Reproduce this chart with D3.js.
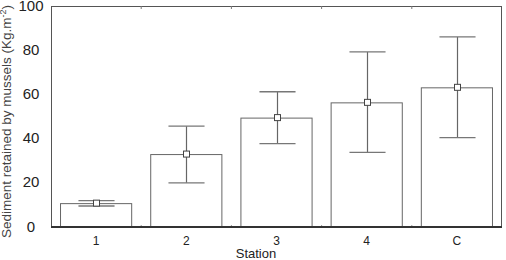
<!DOCTYPE html>
<html>
<head>
<meta charset="utf-8">
<script src="https://cdn.jsdelivr.net/npm/d3@7"></script>
<style>
body { margin: 0; background: #fff; }
text { font-family: "Liberation Sans", Arial, sans-serif; fill: #222; }
</style>
</head>
<body>
<script>
var stations = ["1", "2", "3", "4", "C"];
var means = [10.8, 33.0, 49.5, 56.4, 63.2];
var lower = [9.5, 20.0, 37.7, 33.8, 40.4];
var upper = [11.9, 45.6, 61.2, 79.2, 86.0];
var yTicks = [0, 20, 40, 60, 80, 100];

var W = 506, H = 260;
var pLeft = 51, pRight = 502, pTop = 6, pBottom = 227;

var svg = d3.select("body").append("svg")
  .attr("width", W).attr("height", H);

var x = d3.scaleBand().domain(stations)
  .range([pLeft, pRight]).paddingInner(0.2).paddingOuter(0.1);
var y = d3.scaleLinear().domain([0, 100]).range([pBottom, pTop]);

// frame
svg.append("rect")
  .attr("x", pLeft + 0.5).attr("y", pTop + 0.5)
  .attr("width", pRight - pLeft - 1).attr("height", pBottom - pTop)
  .attr("fill", "none").attr("stroke", "#555").attr("stroke-width", 1);

// boundary ticks top & bottom
var step = x.step();
var bounds = stations.slice(1).map(function (s) { return x(s) - (step - x.bandwidth()) / 2; });
svg.selectAll(".tb").data(bounds).enter().append("line")
  .attr("x1", function (d) { return d; }).attr("x2", function (d) { return d; })
  .attr("y1", pTop).attr("y2", pTop + 3).attr("stroke", "#777");
svg.selectAll(".bb").data(bounds).enter().append("line")
  .attr("x1", function (d) { return d; }).attr("x2", function (d) { return d; })
  .attr("y1", pBottom - 2).attr("y2", pBottom).attr("stroke", "#999");

// bars
var g = svg.append("g");
g.selectAll(".bar").data(stations).enter().append("rect")
  .attr("x", function (d) { return x(d) + 0.5; })
  .attr("y", function (d, i) { return y(means[i]) + 0.5; })
  .attr("width", x.bandwidth() - 1)
  .attr("height", function (d, i) { return pBottom - y(means[i]); })
  .attr("fill", "#fff").attr("stroke", "#666").attr("stroke-width", 1);

// error bars
var cap = x.bandwidth() / 4;
stations.forEach(function (s, i) {
  var cx = Math.round(x(s) + x.bandwidth() / 2) + 0.5;
  g.append("line").attr("x1", cx).attr("x2", cx)
    .attr("y1", y(upper[i])).attr("y2", y(lower[i]))
    .attr("stroke", "#666").attr("stroke-width", 1.2);
  [upper[i], lower[i]].forEach(function (v) {
    g.append("line").attr("x1", cx - cap).attr("x2", cx + cap)
      .attr("y1", y(v)).attr("y2", y(v))
      .attr("stroke", "#777").attr("stroke-width", 1.3);
  });
  g.append("rect").attr("x", cx - 3).attr("y", y(means[i]) - 3)
    .attr("width", 6).attr("height", 6)
    .attr("fill", "#fff").attr("stroke", "#444").attr("stroke-width", 1);
});

// bottom axis line
svg.append("line").attr("x1", pLeft).attr("x2", pRight)
  .attr("y1", pBottom).attr("y2", pBottom)
  .attr("stroke", "#333").attr("stroke-width", 2);

// y tick labels
svg.selectAll(".yl").data(yTicks).enter().append("text")
  .attr("x", 31).attr("y", function (d) { return y(d); })
  .attr("dy", "0.3em").attr("text-anchor", "middle")
  .style("font-size", "15px")
  .text(function (d) { return d; });

// x tick labels
svg.selectAll(".xl").data(stations).enter().append("text")
  .attr("x", function (d) { return x(d) + x.bandwidth() / 2; })
  .attr("y", 241).attr("dy", "0.35em").attr("text-anchor", "middle")
  .style("font-size", "12px")
  .text(function (d) { return d; });

svg.append("text").attr("x", 256).attr("y", 253).attr("dy", "0.35em")
  .attr("text-anchor", "middle").style("font-size", "13px").text("Station");

var yt = svg.append("text")
  .attr("transform", "translate(11,238) rotate(-90)")
  .attr("text-anchor", "start").style("font-size", "13.5px").style("fill", "#444");
yt.append("tspan").text("Sediment retained by mussels (Kg.m");
yt.append("tspan").attr("dy", "-5").style("font-size", "9px").text("-2");
yt.append("tspan").attr("dy", "5").text(")");
</script>
</body>
</html>
